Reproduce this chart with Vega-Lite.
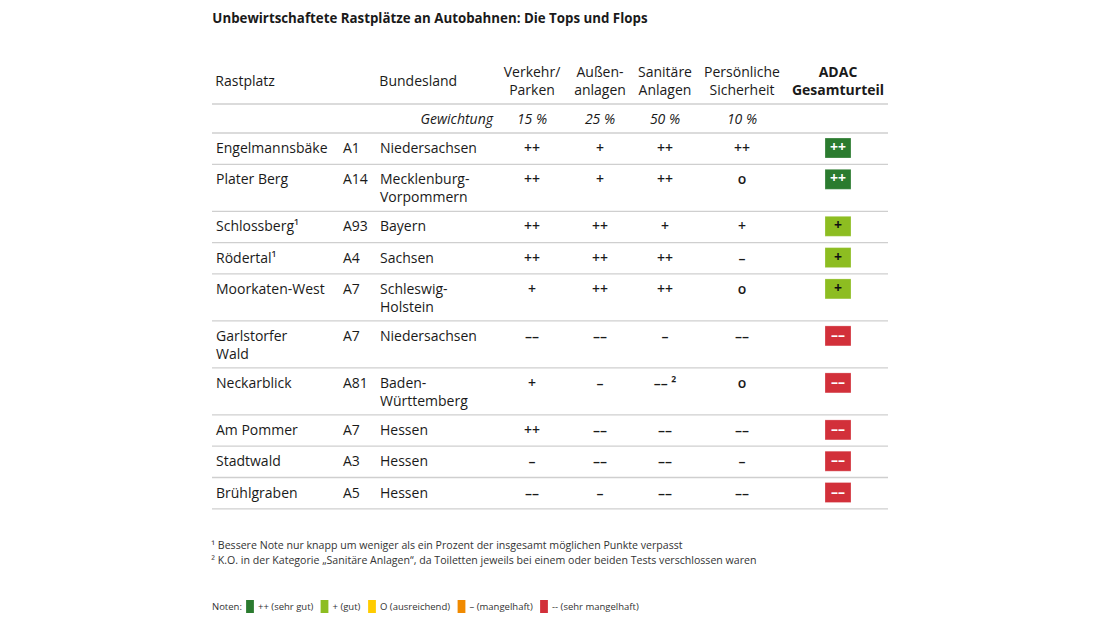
{
  "$schema": "https://vega.github.io/schema/vega-lite/v6.json",
  "background": "white",
  "padding": {"left": 211, "top": 12, "right": 10, "bottom": 10},
  "title": {"text": "Unbewirtschaftete Rastplätze an Autobahnen: Die Tops und Flops", "anchor": "start", "font": "Open Sans", "fontSize": 13.3, "fontWeight": "bold", "color": "#1a1a1a", "offset": 41, "dx": 1},
  "datasets": {
    "tabelle": [
      {"typ": "Gewichtung", "rastplatz": "", "autobahn": "", "bundesland": "Gewichtung", "verkehr": "15 %", "aussen": "25 %", "sanitaer": "50 %", "sicherheit": "10 %", "gesamt": ""},
      {"typ": "Rastplatz", "rastplatz": "Engelmannsbäke", "autobahn": "A1", "bundesland": "Niedersachsen", "verkehr": "++", "aussen": "+", "sanitaer": "++", "sicherheit": "++", "gesamt": "++"},
      {"typ": "Rastplatz", "rastplatz": "Plater Berg", "autobahn": "A14", "bundesland": "Mecklenburg-\nVorpommern", "verkehr": "++", "aussen": "+", "sanitaer": "++", "sicherheit": "o", "gesamt": "++"},
      {"typ": "Rastplatz", "rastplatz": "Schlossberg¹", "autobahn": "A93", "bundesland": "Bayern", "verkehr": "++", "aussen": "++", "sanitaer": "+", "sicherheit": "+", "gesamt": "+"},
      {"typ": "Rastplatz", "rastplatz": "Rödertal¹", "autobahn": "A4", "bundesland": "Sachsen", "verkehr": "++", "aussen": "++", "sanitaer": "++", "sicherheit": "–", "gesamt": "+"},
      {"typ": "Rastplatz", "rastplatz": "Moorkaten-West", "autobahn": "A7", "bundesland": "Schleswig-\nHolstein", "verkehr": "+", "aussen": "++", "sanitaer": "++", "sicherheit": "o", "gesamt": "+"},
      {"typ": "Rastplatz", "rastplatz": "Garlstorfer\nWald", "autobahn": "A7", "bundesland": "Niedersachsen", "verkehr": "––", "aussen": "––", "sanitaer": "–", "sicherheit": "––", "gesamt": "––"},
      {"typ": "Rastplatz", "rastplatz": "Neckarblick", "autobahn": "A81", "bundesland": "Baden-\nWürttemberg", "verkehr": "+", "aussen": "–", "sanitaer": "–– ²", "sicherheit": "o", "gesamt": "––"},
      {"typ": "Rastplatz", "rastplatz": "Am Pommer", "autobahn": "A7", "bundesland": "Hessen", "verkehr": "++", "aussen": "––", "sanitaer": "––", "sicherheit": "––", "gesamt": "––"},
      {"typ": "Rastplatz", "rastplatz": "Stadtwald", "autobahn": "A3", "bundesland": "Hessen", "verkehr": "–", "aussen": "––", "sanitaer": "––", "sicherheit": "–", "gesamt": "––"},
      {"typ": "Rastplatz", "rastplatz": "Brühlgraben", "autobahn": "A5", "bundesland": "Hessen", "verkehr": "––", "aussen": "–", "sanitaer": "––", "sicherheit": "––", "gesamt": "––"}
    ]
  },
  "vconcat": [
    {
      "data": {"name": "tabelle"},
      "transform": [
        {"calculate": "datum.typ === 'Gewichtung' ? 29 : (indexof(datum.rastplatz + datum.bundesland, '\\n') >= 0 ? 47 : 31.3)", "as": "hoehe"},
        {"window": [{"op": "sum", "field": "hoehe", "as": "unten"}], "frame": [null, 0], "ignorePeers": true},
        {"calculate": "datum.unten - datum.hoehe", "as": "oben"},
        {"calculate": "datum.oben + 15", "as": "mitte"},
        {"fold": ["rastplatz", "autobahn", "bundesland", "verkehr", "aussen", "sanitaer", "sicherheit", "gesamt"], "as": ["spalte", "wert"]}
      ],
      "title": {"text": ["¹ Bessere Note nur knapp um weniger als ein Prozent der insgesamt möglichen Punkte verpasst", "² K.O. in der Kategorie „Sanitäre Anlagen“, da Toiletten jeweils bei einem oder beiden Tests verschlossen waren"], "orient": "bottom", "anchor": "start", "font": "Open Sans", "fontSize": 10.6, "fontWeight": "normal", "color": "#333333", "lineHeight": 15, "offset": 32},
      "spacing": 0,
      "bounds": "flush",
      "hconcat": [
        {
          "width": 125, "height": 405,
          "title": {"text": "Rastplatz", "anchor": "start", "dx": 4, "dy": -9, "font": "Open Sans", "fontSize": 14, "fontWeight": "normal", "color": "#1a1a1a", "offset": 5},
          "transform": [{"filter": "datum.spalte === 'rastplatz'"}],
          "layer": [
            {"mark": {"type": "rule", "color": "#cfcfcf", "strokeWidth": 1.3}, "encoding": {"y": {"field": "unten", "type": "quantitative", "scale": {"domain": [0, 405], "reverse": true, "nice": false, "zero": false}, "axis": null}}},
            {"transform": [{"filter": "datum.typ === 'Gewichtung'"}], "mark": {"type": "rule", "color": "#cfcfcf", "strokeWidth": 1.3}, "encoding": {"y": {"field": "oben", "type": "quantitative", "axis": null}}},
            {"transform": [{"filter": "datum.typ === 'Rastplatz'"}], "mark": {"type": "text", "align": "left", "baseline": "top", "dx": 4, "dy": 9, "lineBreak": "\n", "lineHeight": 18, "font": "Open Sans", "fontSize": 14, "color": "#1a1a1a"},
             "encoding": {"x": {"field": "spalte", "type": "nominal", "scale": {"type": "band", "paddingInner": 0, "paddingOuter": 0}, "axis": null, "bandPosition": 0}, "y": {"field": "oben", "type": "quantitative", "axis": null}, "text": {"field": "wert"}}}
          ]
        },
        {
          "width": 38, "height": 405,
          "transform": [{"filter": "datum.spalte === 'autobahn'"}],
          "layer": [
            {"mark": {"type": "rule", "color": "#cfcfcf", "strokeWidth": 1.3}, "encoding": {"y": {"field": "unten", "type": "quantitative", "scale": {"domain": [0, 405], "reverse": true, "nice": false, "zero": false}, "axis": null}}},
            {"transform": [{"filter": "datum.typ === 'Gewichtung'"}], "mark": {"type": "rule", "color": "#cfcfcf", "strokeWidth": 1.3}, "encoding": {"y": {"field": "oben", "type": "quantitative", "axis": null}}},
            {"transform": [{"filter": "datum.typ === 'Rastplatz'"}], "mark": {"type": "text", "align": "left", "baseline": "top", "dx": 6, "dy": 9, "lineBreak": "\n", "lineHeight": 18, "font": "Open Sans", "fontSize": 14, "color": "#1a1a1a"},
             "encoding": {"x": {"field": "spalte", "type": "nominal", "scale": {"type": "band", "paddingInner": 0, "paddingOuter": 0}, "axis": null, "bandPosition": 0}, "y": {"field": "oben", "type": "quantitative", "axis": null}, "text": {"field": "wert"}}}
          ]
        },
        {
          "width": 123, "height": 405,
          "title": {"text": "Bundesland", "anchor": "start", "dx": 5, "dy": -9, "font": "Open Sans", "fontSize": 14, "fontWeight": "normal", "color": "#1a1a1a", "offset": 5},
          "transform": [{"filter": "datum.spalte === 'bundesland'"}],
          "layer": [
            {"mark": {"type": "rule", "color": "#cfcfcf", "strokeWidth": 1.3}, "encoding": {"y": {"field": "unten", "type": "quantitative", "scale": {"domain": [0, 405], "reverse": true, "nice": false, "zero": false}, "axis": null}}},
            {"transform": [{"filter": "datum.typ === 'Gewichtung'"}], "mark": {"type": "rule", "color": "#cfcfcf", "strokeWidth": 1.3}, "encoding": {"y": {"field": "oben", "type": "quantitative", "axis": null}}},
            {"transform": [{"filter": "datum.typ === 'Rastplatz'"}], "mark": {"type": "text", "align": "left", "baseline": "top", "dx": 5, "dy": 9, "lineBreak": "\n", "lineHeight": 18, "font": "Open Sans", "fontSize": 14, "color": "#1a1a1a"},
             "encoding": {"x": {"field": "spalte", "type": "nominal", "scale": {"type": "band", "paddingInner": 0, "paddingOuter": 0}, "axis": null, "bandPosition": 0}, "y": {"field": "oben", "type": "quantitative", "axis": null}, "text": {"field": "wert"}}},
            {"transform": [{"filter": "datum.typ === 'Gewichtung'"}], "mark": {"type": "text", "align": "right", "baseline": "top", "dx": -5, "dy": 9, "font": "Open Sans", "fontSize": 14, "fontStyle": "italic", "color": "#1a1a1a"},
             "encoding": {"x": {"field": "spalte", "type": "nominal", "scale": {"type": "band", "paddingInner": 0, "paddingOuter": 0}, "axis": null, "bandPosition": 1}, "y": {"field": "oben", "type": "quantitative", "axis": null}, "text": {"field": "wert"}}}
          ]
        },
        {
          "width": 68, "height": 405,
          "title": {"text": ["Verkehr/", "Parken"], "anchor": "middle", "font": "Open Sans", "fontSize": 14, "fontWeight": "normal", "color": "#1a1a1a", "lineHeight": 18, "offset": 5},
          "transform": [{"filter": "datum.spalte === 'verkehr'"}],
          "layer": [
            {"mark": {"type": "rule", "color": "#cfcfcf", "strokeWidth": 1.3}, "encoding": {"y": {"field": "unten", "type": "quantitative", "scale": {"domain": [0, 405], "reverse": true, "nice": false, "zero": false}, "axis": null}}},
            {"transform": [{"filter": "datum.typ === 'Gewichtung'"}], "mark": {"type": "rule", "color": "#cfcfcf", "strokeWidth": 1.3}, "encoding": {"y": {"field": "oben", "type": "quantitative", "axis": null}}},
            {"transform": [{"filter": "datum.typ === 'Rastplatz'"}], "mark": {"type": "text", "align": "center", "baseline": "top", "dy": 9, "font": "Open Sans", "fontSize": 14, "fontWeight": 600, "color": "#1a1a1a"},
             "encoding": {"x": {"field": "spalte", "type": "nominal", "scale": {"type": "band", "paddingInner": 0, "paddingOuter": 0}, "axis": null, "bandPosition": 0.5}, "y": {"field": "oben", "type": "quantitative", "axis": null}, "text": {"field": "wert"}}},
            {"transform": [{"filter": "datum.typ === 'Gewichtung'"}], "mark": {"type": "text", "align": "center", "baseline": "top", "dy": 9, "font": "Open Sans", "fontSize": 14, "fontStyle": "italic", "color": "#1a1a1a"},
             "encoding": {"x": {"field": "spalte", "type": "nominal", "scale": {"type": "band", "paddingInner": 0, "paddingOuter": 0}, "axis": null, "bandPosition": 0.5}, "y": {"field": "oben", "type": "quantitative", "axis": null}, "text": {"field": "wert"}}}
          ]
        },
        {
          "width": 68, "height": 405,
          "title": {"text": ["Außen-", "anlagen"], "anchor": "middle", "font": "Open Sans", "fontSize": 14, "fontWeight": "normal", "color": "#1a1a1a", "lineHeight": 18, "offset": 5},
          "transform": [{"filter": "datum.spalte === 'aussen'"}],
          "layer": [
            {"mark": {"type": "rule", "color": "#cfcfcf", "strokeWidth": 1.3}, "encoding": {"y": {"field": "unten", "type": "quantitative", "scale": {"domain": [0, 405], "reverse": true, "nice": false, "zero": false}, "axis": null}}},
            {"transform": [{"filter": "datum.typ === 'Gewichtung'"}], "mark": {"type": "rule", "color": "#cfcfcf", "strokeWidth": 1.3}, "encoding": {"y": {"field": "oben", "type": "quantitative", "axis": null}}},
            {"transform": [{"filter": "datum.typ === 'Rastplatz'"}], "mark": {"type": "text", "align": "center", "baseline": "top", "dy": 9, "font": "Open Sans", "fontSize": 14, "fontWeight": 600, "color": "#1a1a1a"},
             "encoding": {"x": {"field": "spalte", "type": "nominal", "scale": {"type": "band", "paddingInner": 0, "paddingOuter": 0}, "axis": null, "bandPosition": 0.5}, "y": {"field": "oben", "type": "quantitative", "axis": null}, "text": {"field": "wert"}}},
            {"transform": [{"filter": "datum.typ === 'Gewichtung'"}], "mark": {"type": "text", "align": "center", "baseline": "top", "dy": 9, "font": "Open Sans", "fontSize": 14, "fontStyle": "italic", "color": "#1a1a1a"},
             "encoding": {"x": {"field": "spalte", "type": "nominal", "scale": {"type": "band", "paddingInner": 0, "paddingOuter": 0}, "axis": null, "bandPosition": 0.5}, "y": {"field": "oben", "type": "quantitative", "axis": null}, "text": {"field": "wert"}}}
          ]
        },
        {
          "width": 62, "height": 405,
          "title": {"text": ["Sanitäre", "Anlagen"], "anchor": "middle", "font": "Open Sans", "fontSize": 14, "fontWeight": "normal", "color": "#1a1a1a", "lineHeight": 18, "offset": 5},
          "transform": [{"filter": "datum.spalte === 'sanitaer'"}],
          "layer": [
            {"mark": {"type": "rule", "color": "#cfcfcf", "strokeWidth": 1.3}, "encoding": {"y": {"field": "unten", "type": "quantitative", "scale": {"domain": [0, 405], "reverse": true, "nice": false, "zero": false}, "axis": null}}},
            {"transform": [{"filter": "datum.typ === 'Gewichtung'"}], "mark": {"type": "rule", "color": "#cfcfcf", "strokeWidth": 1.3}, "encoding": {"y": {"field": "oben", "type": "quantitative", "axis": null}}},
            {"transform": [{"filter": "datum.typ === 'Rastplatz'"}], "mark": {"type": "text", "align": "center", "baseline": "top", "dy": 9, "font": "Open Sans", "fontSize": 14, "fontWeight": 600, "color": "#1a1a1a"},
             "encoding": {"x": {"field": "spalte", "type": "nominal", "scale": {"type": "band", "paddingInner": 0, "paddingOuter": 0}, "axis": null, "bandPosition": 0.5}, "y": {"field": "oben", "type": "quantitative", "axis": null}, "text": {"field": "wert"}}},
            {"transform": [{"filter": "datum.typ === 'Gewichtung'"}], "mark": {"type": "text", "align": "center", "baseline": "top", "dy": 9, "font": "Open Sans", "fontSize": 14, "fontStyle": "italic", "color": "#1a1a1a"},
             "encoding": {"x": {"field": "spalte", "type": "nominal", "scale": {"type": "band", "paddingInner": 0, "paddingOuter": 0}, "axis": null, "bandPosition": 0.5}, "y": {"field": "oben", "type": "quantitative", "axis": null}, "text": {"field": "wert"}}}
          ]
        },
        {
          "width": 92, "height": 405,
          "title": {"text": ["Persönliche", "Sicherheit"], "anchor": "middle", "font": "Open Sans", "fontSize": 14, "fontWeight": "normal", "color": "#1a1a1a", "lineHeight": 18, "offset": 5},
          "transform": [{"filter": "datum.spalte === 'sicherheit'"}],
          "layer": [
            {"mark": {"type": "rule", "color": "#cfcfcf", "strokeWidth": 1.3}, "encoding": {"y": {"field": "unten", "type": "quantitative", "scale": {"domain": [0, 405], "reverse": true, "nice": false, "zero": false}, "axis": null}}},
            {"transform": [{"filter": "datum.typ === 'Gewichtung'"}], "mark": {"type": "rule", "color": "#cfcfcf", "strokeWidth": 1.3}, "encoding": {"y": {"field": "oben", "type": "quantitative", "axis": null}}},
            {"transform": [{"filter": "datum.typ === 'Rastplatz'"}], "mark": {"type": "text", "align": "center", "baseline": "top", "dy": 9, "font": "Open Sans", "fontSize": 14, "fontWeight": 600, "color": "#1a1a1a"},
             "encoding": {"x": {"field": "spalte", "type": "nominal", "scale": {"type": "band", "paddingInner": 0, "paddingOuter": 0}, "axis": null, "bandPosition": 0.5}, "y": {"field": "oben", "type": "quantitative", "axis": null}, "text": {"field": "wert"}}},
            {"transform": [{"filter": "datum.typ === 'Gewichtung'"}], "mark": {"type": "text", "align": "center", "baseline": "top", "dy": 9, "font": "Open Sans", "fontSize": 14, "fontStyle": "italic", "color": "#1a1a1a"},
             "encoding": {"x": {"field": "spalte", "type": "nominal", "scale": {"type": "band", "paddingInner": 0, "paddingOuter": 0}, "axis": null, "bandPosition": 0.5}, "y": {"field": "oben", "type": "quantitative", "axis": null}, "text": {"field": "wert"}}}
          ]
        },
        {
          "width": 100, "height": 405,
          "title": {"text": ["ADAC", "Gesamturteil"], "anchor": "middle", "font": "Open Sans", "fontSize": 14, "fontWeight": "bold", "color": "#1a1a1a", "lineHeight": 18, "offset": 5},
          "transform": [{"filter": "datum.spalte === 'gesamt'"}],
          "layer": [
            {"mark": {"type": "rule", "color": "#cfcfcf", "strokeWidth": 1.3}, "encoding": {"y": {"field": "unten", "type": "quantitative", "scale": {"domain": [0, 405], "reverse": true, "nice": false, "zero": false}, "axis": null}}},
            {"transform": [{"filter": "datum.typ === 'Gewichtung'"}], "mark": {"type": "rule", "color": "#cfcfcf", "strokeWidth": 1.3}, "encoding": {"y": {"field": "oben", "type": "quantitative", "axis": null}}},
            {"transform": [{"filter": "datum.typ === 'Rastplatz'"}], "mark": {"type": "point", "shape": "M-1.3,-1L1.3,-1L1.3,1L-1.3,1Z", "size": 400, "filled": true, "opacity": 1, "stroke": "#ffffff", "strokeOpacity": 0.25, "strokeWidth": 1},
             "encoding": {
               "x": {"field": "spalte", "type": "nominal", "scale": {"type": "band", "paddingInner": 0, "paddingOuter": 0}, "axis": null, "bandPosition": 0.5},
               "y": {"field": "mitte", "type": "quantitative", "axis": null},
               "color": {"field": "wert", "type": "nominal",
                 "scale": {"domain": ["++", "+", "o", "–", "––"], "range": ["#2b7b2f", "#8dbd21", "#ffcc00", "#f08a00", "#d2303a"]},
                 "legend": {"orient": "bottom", "direction": "horizontal", "title": "Noten:", "titleOrient": "left", "titleFont": "Open Sans", "titleFontSize": 9.5, "titleFontWeight": "normal", "titleColor": "#333333", "titlePadding": 1.5, "labelFont": "Open Sans", "labelFontSize": 9.5, "labelColor": "#333333", "labelOffset": 1.5, "columnPadding": 4.5, "symbolType": "M-0.6,-1L0.6,-1L0.6,1L-0.6,1Z", "symbolSize": 169, "symbolStrokeWidth": 0, "symbolOpacity": 1, "offset": 32,
                   "labelExpr": "datum.label === '++' ? '++ (sehr gut)' : datum.label === '+' ? '+ (gut)' : datum.label === 'o' ? 'O (ausreichend)' : datum.label === '–' ? '– (mangelhaft)' : '-- (sehr mangelhaft)'"}}
             }},
            {"transform": [{"filter": "datum.typ === 'Rastplatz'"}], "mark": {"type": "text", "align": "center", "baseline": "middle", "font": "Open Sans", "fontSize": 14, "fontWeight": "bold"},
             "encoding": {
               "x": {"field": "spalte", "type": "nominal", "scale": {"type": "band", "paddingInner": 0, "paddingOuter": 0}, "axis": null, "bandPosition": 0.5},
               "y": {"field": "mitte", "type": "quantitative", "axis": null},
               "text": {"field": "wert"},
               "color": {"condition": {"test": "datum.wert === '+'", "value": "#111111"}, "value": "#ffffff"}
             }}
          ]
        }
      ]
    }
  ],
  "config": {"view": {"stroke": null}, "font": "Open Sans"}
}
